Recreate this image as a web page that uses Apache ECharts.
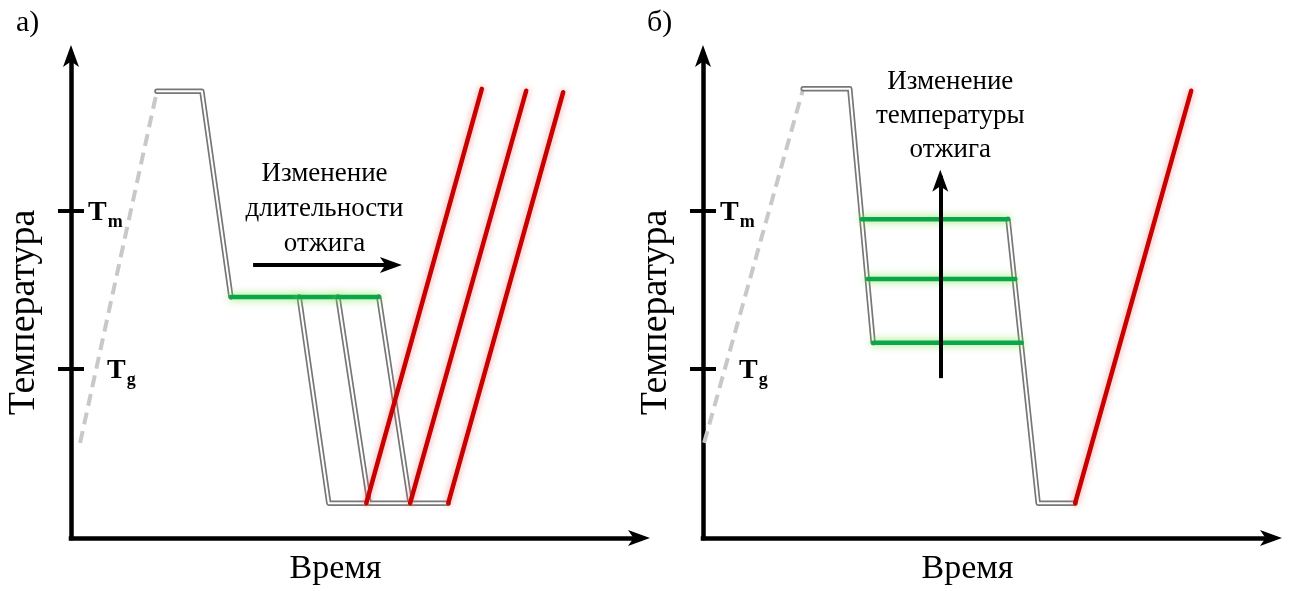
<!DOCTYPE html>
<html><head><meta charset="utf-8">
<script src="https://cdn.jsdelivr.net/npm/echarts@6/dist/echarts.min.js"></script>
<style>html,body{margin:0;padding:0;background:#fff}#c{width:1289px;height:591px}</style>
</head><body><div id="c"></div>
<script>
// ---------- data (arbitrary units: time 0..100, temperature 0..100) ----------
const panelLabels = ['а)', 'б)'];
const timeName = 'Время';
const tempName = 'Температура';
const tickValues = [35.0, 67.7];          // Tg, Tm
const tickSubs = ['g', 'm'];
const lowTemp = 7.2;

// panel а) – varying anneal duration
const heatA_time = [1.6, 15.1];
const heatA_temp = [19.7, 92.5];
const quenchA_time = [15.1, 23.0, 28.1];
const quenchA_temp = [92.5, 92.5, 49.9];
const annealTempA = 49.9;
const annealStartA = 28.1;
const annealEndA = [40.1, 46.9, 54.1];
const coolEndA = [45.3, 52.4, 59.6];
const reheatStartA = [51.9, 59.6, 66.3];
const reheatEndA = [72.2, 80.0, 86.5];
const reheatTopA = [93.0, 92.6, 92.3];
const arrowA_time = [32.0, 57.1];
const arrowA_temp = 56.5;

// panel б) – varying anneal temperature
const heatB_time = [0.2, 17.6];
const heatB_temp = [19.7, 93.0];
const quenchB_time = [17.6, 25.8, 29.9];
const quenchB_temp = [93.0, 93.0, 40.4];
const annealTempB = [66.0, 53.6, 40.4];
const annealStartB = [27.9, 28.9, 29.9];
const annealEndB = [53.6, 54.9, 56.0];
const coolB_time = [53.6, 58.9, 65.4];
const coolB_temp = [66.0, 7.2, 7.2];
const reheatB_time = [65.4, 85.8];
const reheatB_temp = [7.2, 92.6];
const arrowB_time = 41.7;
const arrowB_temp = [33.1, 75.0];

const annotations = ['Изменение\nдлительности\nотжига', 'Изменение\nтемпературы\nотжига'];

// ---------- build ----------
const FONT = 'Liberation Serif';
const zip = (xs, ys) => xs.map((x, i) => [x, ys[i]]);
const series = [];
function add(gi, pts, style, z, extra) {
  series.push(Object.assign({
    type: 'line', xAxisIndex: gi, yAxisIndex: gi === 0 ? 0 : 2, data: pts, symbol: 'none',
    silent: true, animation: false, z: z, lineStyle: style
  }, extra || {}));
}
const grayOuter = { color: '#777777', width: 5.4, cap: 'round', join: 'round' };
const grayInner = { color: '#ffffff', width: 2, cap: 'round', join: 'round' };
function gray(gi, pts) { add(gi, pts, grayOuter, 2); add(gi, pts, grayInner, 3); }
const dashStyle = { color: '#c8c8c8', width: 4, type: [12, 7], cap: 'butt' };
const greenStyle = { color: '#08a84a', width: 4.5, cap: 'round', shadowBlur: 9, shadowColor: 'rgba(130,225,80,0.95)' };
const redStyle = { color: '#c80000', width: 4.5, cap: 'round', shadowBlur: 7, shadowColor: 'rgba(235,120,120,0.75)' };

function arrowMark(from, to, text, labelOpt) {
  return {
    silent: true, animation: false, symbol: ['none', 'arrow'],
    lineStyle: { color: '#000', width: 4, type: 'solid', cap: 'butt' },
    emphasis: { disabled: true },
    label: Object.assign({
      show: true, formatter: text, fontFamily: FONT, fontSize: 27, lineHeight: 35, color: '#000'
    }, labelOpt),
    data: [[{ coord: from, symbol: 'none' },
            { coord: to, symbol: 'arrow', symbolSize: [12, 22], symbolOffset: [0, -6] }]]
  };
}

// panel а)
add(0, zip(heatA_time, heatA_temp), dashStyle, 1, {
  markLine: arrowMark([arrowA_time[0], arrowA_temp], [arrowA_time[1], arrowA_temp], annotations[0],
    { position: 'insideMiddleTop', distance: 4, padding: [0, 0, 0, 0] })
});
gray(0, zip(quenchA_time, quenchA_temp));
annealEndA.forEach((e, i) => {
  gray(0, [[e, annealTempA], [coolEndA[i], lowTemp], [reheatStartA[i], lowTemp]]);
});
// anneal segments: each longer anneal continues the previous one
annealEndA.forEach((e, i) => add(0, [[i === 0 ? annealStartA : annealEndA[i - 1], annealTempA], [e, annealTempA]], greenStyle, 4));
reheatStartA.forEach((s, i) => add(0, [[s, lowTemp], [reheatEndA[i], reheatTopA[i]]], redStyle, 5));

// panel б)
add(1, zip(heatB_time, heatB_temp), dashStyle, 1, {
  markLine: arrowMark([arrowB_time, arrowB_temp[0]], [arrowB_time, arrowB_temp[1]], annotations[1],
    { position: 'end', distance: 9, lineHeight: 34, padding: [0, 0, 0, 20] })
});
gray(1, zip(quenchB_time, quenchB_temp));
gray(1, zip(coolB_time, coolB_temp));
annealTempB.forEach((t, i) => add(1, [[annealStartB[i], t], [annealEndB[i], t]], greenStyle, 4));
add(1, zip(reheatB_time, reheatB_temp), redStyle, 5);

// axes
const axisLineStyle = { show: true, onZero: false, symbol: ['none', 'arrow'], symbolSize: [12, 22], symbolOffset: [0, 10],
  lineStyle: { color: '#000', width: 4.5, cap: 'square' } };
const grids = [], xAxes = [], yAxes = [];
[71, 703].forEach((left, gi) => {
  grids.push({ left: left, top: 55, width: 569, height: 483, outerBoundsMode: 'none', containLabel: false });
  xAxes.push({
    type: 'value', gridIndex: gi, min: 0, max: 100,
    name: timeName, nameLocation: 'middle', nameGap: 14,
    nameTextStyle: { fontFamily: FONT, fontSize: 34, color: '#000', padding: [0, 40, 0, 0] },
    axisLine: axisLineStyle,
    axisTick: { show: false }, axisLabel: { show: false }, splitLine: { show: false }
  });
  yAxes.push({
    type: 'value', gridIndex: gi, min: 0, max: 100, position: 'left',
    name: tempName, nameLocation: 'middle', nameGap: 28, nameRotate: 90,
    nameTextStyle: { fontFamily: FONT, fontSize: 38, color: '#000', padding: [0, 32, 0, 0] },
    axisLine: axisLineStyle,
    axisTick: { show: true, customValues: tickValues, length: 13, lineStyle: { color: '#000', width: 4 } },
    axisLabel: {
      show: true, customValues: tickValues, inside: true, margin: 17,
      formatter: (v) => v > 50 ? '{t|T}{s|' + tickSubs[1] + '}' : '{p|}{t|T}{s|' + tickSubs[0] + '}',
      rich: {
        t: { fontFamily: FONT, fontWeight: 'bold', fontSize: 28, color: '#000', lineHeight: 28, padding: [4, 0, 0, 0] },
        s: { fontFamily: FONT, fontWeight: 'bold', fontSize: 18, color: '#000', padding: [22, 0, 0, 1], lineHeight: 18 },
        p: { width: 19 }
      }
    },
    splitLine: { show: false }
  });
  yAxes.push({
    type: 'value', gridIndex: gi, min: 0, max: 100, position: 'left', offset: 0,
    axisLine: { show: false },
    axisTick: { show: true, inside: true, customValues: tickValues, length: 13, lineStyle: { color: '#000', width: 4 } },
    axisLabel: { show: false }, splitLine: { show: false }
  });
});

const chart = echarts.init(document.getElementById('c'), null, { renderer: 'canvas' });
chart.setOption({
  backgroundColor: '#fff',
  animation: false,
  grid: grids, xAxis: xAxes, yAxis: yAxes, series: series,
  graphic: [
    { type: 'text', left: 16, top: 8, style: { text: panelLabels[0], font: '30px "Liberation Serif"', fill: '#000' } },
    { type: 'text', left: 647, top: 8, style: { text: panelLabels[1], font: '30px "Liberation Serif"', fill: '#000' } }
  ]
});
</script></body></html>
